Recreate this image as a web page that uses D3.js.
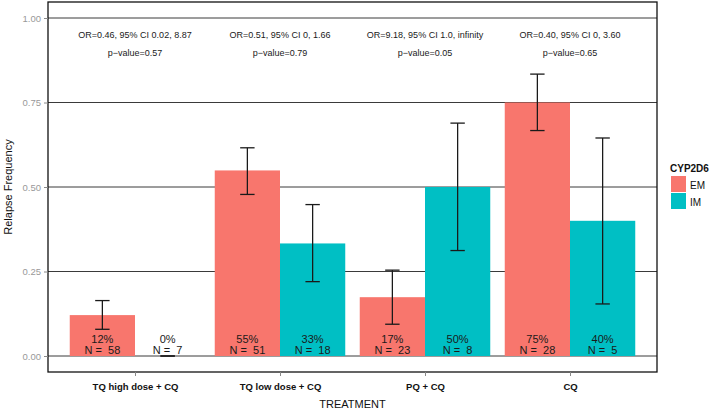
<!DOCTYPE html>
<html><head><meta charset="utf-8">
<script src="https://cdn.jsdelivr.net/npm/d3@7"></script>
<style>body{margin:0;background:#fff;} svg{display:block;font-family:"Liberation Sans",Arial,sans-serif;} .pre{white-space:pre;}</style>
</head><body><svg id="c" width="710" height="412"></svg>
<script>
const categories = ["TQ high dose + CQ", "TQ low dose + CQ", "PQ + CQ", "CQ"];
const groups = ["EM", "IM"];
const emValues = [0.121, 0.549, 0.174, 0.75];
const imValues = [0, 0.333, 0.5, 0.4];
const emLower = [0.079, 0.478, 0.094, 0.667];
const emUpper = [0.164, 0.616, 0.254, 0.834];
const imLower = [0, 0.220, 0.312, 0.154];
const imUpper = [0, 0.448, 0.689, 0.645];
const emN = [58, 51, 23, 28];
const imN = [7, 18, 8, 5];
const emPct = ["12%", "55%", "17%", "75%"];
const imPct = ["0%", "33%", "50%", "40%"];
const orLabels = ["OR=0.46, 95% CI 0.02, 8.87", "OR=0.51, 95% CI 0, 1.66", "OR=9.18, 95% CI 1.0, infinity", "OR=0.40, 95% CI 0, 3.60"];
const pLabels = ["p\u2212value=0.57", "p\u2212value=0.79", "p\u2212value=0.05", "p\u2212value=0.65"];
const yTicks = [0, 0.25, 0.5, 0.75, 1.0];
const colors = {EM: "#F8766D", IM: "#00BFC4"};

const svg = d3.select("#c");
const L = 48, R = 657, T = 2, B = 372;
const x = d3.scaleLinear().domain([0.4, 4.6]).range([L, R]);
const y = d3.scaleLinear().domain([0, 1]).range([356, 18]);
const barW = 0.45;

svg.append("g").selectAll("line").data(yTicks).join("line")
  .attr("x1", L).attr("x2", R).attr("y1", d => y(d)).attr("y2", d => y(d))
  .attr("stroke", "#3a3a3a").attr("stroke-width", 1);

const data = [];
categories.forEach((c, i) => {
  data.push({i, g: "EM", v: emValues[i], lo: emLower[i], hi: emUpper[i], n: emN[i], p: emPct[i], off: -barW/2});
  data.push({i, g: "IM", v: imValues[i], lo: imLower[i], hi: imUpper[i], n: imN[i], p: imPct[i], off: barW/2});
});

svg.append("g").selectAll("rect").data(data).join("rect")
  .attr("x", d => x(d.i + 1 + d.off - barW/2))
  .attr("width", d => x(d.i + 1 + d.off + barW/2) - x(d.i + 1 + d.off - barW/2))
  .attr("y", d => y(d.v)).attr("height", d => y(0) - y(d.v))
  .attr("fill", d => colors[d.g]);

const eb = svg.append("g").attr("stroke", "#1a1a1a").attr("stroke-width", 1.3).attr("fill", "none");
data.forEach(d => {
  const cx = x(d.i + 1 + d.off);
  const hw = 7.2;
  eb.append("line").attr("x1", cx).attr("x2", cx).attr("y1", y(d.lo)).attr("y2", y(d.hi));
  eb.append("line").attr("x1", cx - hw).attr("x2", cx + hw).attr("y1", y(d.lo)).attr("y2", y(d.lo));
  eb.append("line").attr("x1", cx - hw).attr("x2", cx + hw).attr("y1", y(d.hi)).attr("y2", y(d.hi));
});

const lab = svg.append("g").attr("font-size", 11).attr("fill", "#1a1a1a").attr("text-anchor", "middle");
data.forEach(d => {
  const cx = x(d.i + 1 + d.off);
  lab.append("text").attr("x", cx).attr("y", 343).text(d.p);
  lab.append("text").attr("class", "pre").attr("x", cx).attr("y", 353.5).text("N =  " + d.n);
});

const ann = svg.append("g").attr("font-size", 9).attr("fill", "#1a1a1a").attr("text-anchor", "middle");
categories.forEach((c, i) => {
  ann.append("text").attr("x", x(i + 1)).attr("y", 38).text(orLabels[i]);
  ann.append("text").attr("x", x(i + 1)).attr("y", 56).text(pLabels[i]);
});

svg.append("rect").attr("x", L).attr("y", T).attr("width", R - L).attr("height", B - T)
  .attr("fill", "none").attr("stroke", "#111").attr("stroke-width", 1.3);

const ya = svg.append("g").attr("transform", `translate(${L},0)`)
  .call(d3.axisLeft(y).tickValues(yTicks).tickFormat(d3.format(".2f")).tickSize(4).tickPadding(3));
ya.select(".domain").remove();
ya.selectAll(".tick line").attr("stroke", "#888");
ya.selectAll(".tick text").attr("fill", "#999").attr("font-size", 9.5).attr("font-family", "Liberation Sans, Arial, sans-serif");

const xa = svg.append("g").attr("transform", `translate(0,${B})`)
  .call(d3.axisBottom(x).tickValues([1, 2, 3, 4]).tickFormat(d => categories[d - 1]).tickSize(4).tickPadding(7));
xa.select(".domain").remove();
xa.selectAll(".tick line").attr("stroke", "#888");
xa.selectAll(".tick text").attr("fill", "#111").attr("font-size", 9.5).attr("font-weight", "bold").attr("font-family", "Liberation Sans, Arial, sans-serif");

svg.append("text").attr("x", (L + R) / 2).attr("y", 408).attr("text-anchor", "middle")
  .attr("font-size", 11).attr("fill", "#111").text("TREATMENT");
svg.append("text").attr("transform", `translate(12,${(T + B) / 2}) rotate(-90)`).attr("text-anchor", "middle")
  .attr("font-size", 11).attr("fill", "#111").text("Relapse Frequency");

const lg = svg.append("g");
lg.append("text").attr("x", 670).attr("y", 172).attr("font-size", 10).attr("font-weight", "bold").attr("fill", "#111").text("CYP2D6");
groups.forEach((g, i) => {
  lg.append("rect").attr("x", 671).attr("y", 176 + i * 17).attr("width", 15).attr("height", 16).attr("fill", colors[g]);
  lg.append("text").attr("x", 690).attr("y", 188.5 + i * 17).attr("font-size", 10).attr("fill", "#111").text(g);
});
</script></body></html>
